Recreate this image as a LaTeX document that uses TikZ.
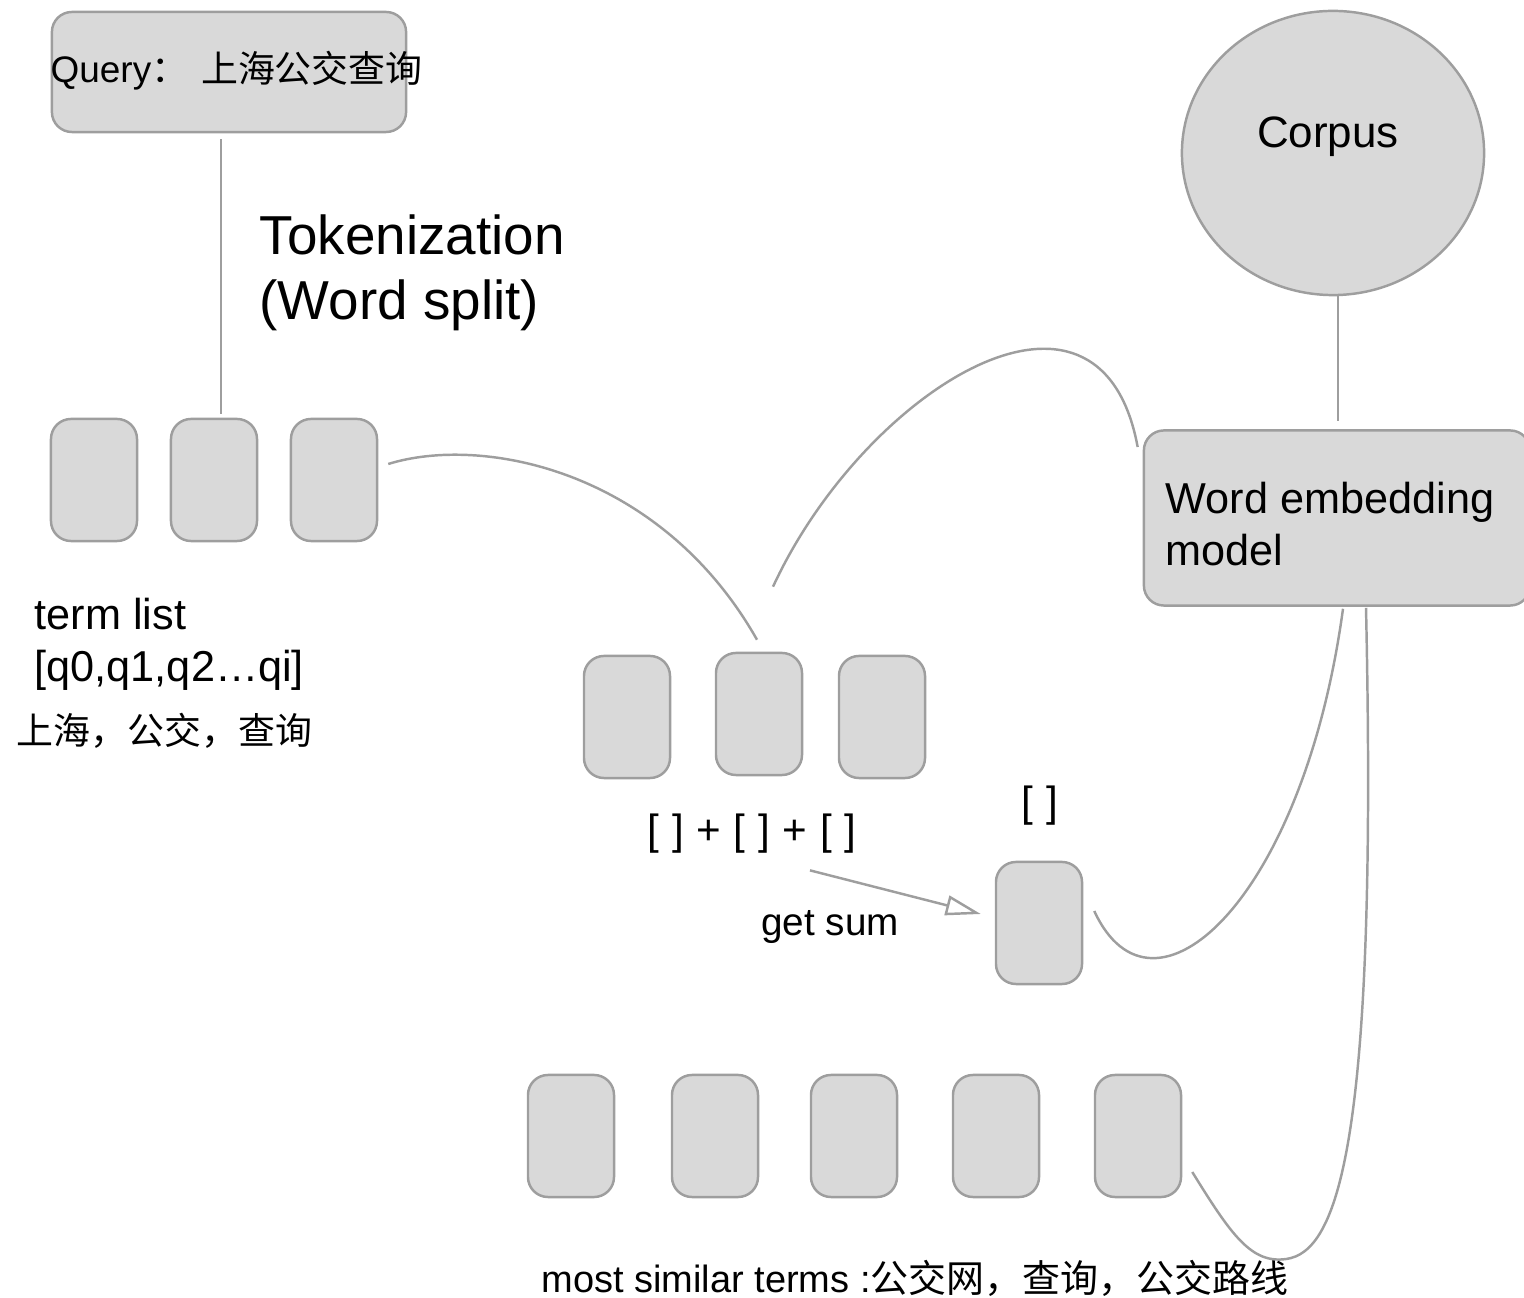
\documentclass[tikz,border=0pt]{standalone}
\usepackage{fontspec}
\setmainfont{Liberation Sans}
\newfontfamily\cjk{Noto Sans CJK SC}
\usepackage{tikz}
\usetikzlibrary{arrows.meta,calc,shapes.geometric}
\definecolor{boxfill}{HTML}{D9D9D9}
\definecolor{boxline}{HTML}{9E9E9E}
\newcommand{\vgap}{\hspace{3.6pt}}

\begin{document}
\begin{tikzpicture}[x=0.01cm,y=-0.01cm,
    term/.style={draw=boxline,fill=boxfill,line width=0.7pt,rounded corners=0.2cm,
        minimum width=0.86cm,minimum height=1.22cm,inner sep=0pt},
    link/.style={draw=boxline,line width=0.7pt},
    txt/.style={inner sep=0pt,align=left}]
    \useasboundingbox (0,0) rectangle (1524,1298);
    %%
    %% Query and tokenization
    \node[term,minimum width=3.54cm,minimum height=1.2cm] (query) at (229,72) {};
    \node[txt,anchor=west,font=\fontsize{10.5}{12}\selectfont] (qtext) at (50,71)
        {Query{\cjk ：\hspace{0.35em}上海公交查询}};
    \node[txt,anchor=north west,font=\fontsize{15.6}{18.5}\selectfont] (token) at (259,214)
        {Tokenization\\(Word split)};
    \foreach \i/\x in {0/94,1/214,2/334}
    {
    \node[term] (q\i) at (\x,480) {};
    }
    \node[txt,anchor=north west,font=\fontsize{12.3}{14.8}\selectfont] (tlist) at (34,597)
        {term list\\{}[q0,q1,q2\dots qi]};
    \node[txt,anchor=west,font=\cjk\fontsize{10.5}{12}\selectfont] (tcn) at (16,731)
        {上海，公交，查询};
    %%
    %% Vectors and sum
    \foreach \i/\x/\y in {0/627/717,1/759/714,2/882/717}
    {
    \node[term] (v\i) at (\x,\y) {};
    }
    \node[txt,font=\fontsize{12}{14}\selectfont] (plus) at (752,834)
        {[\vgap]\vgap+\vgap[\vgap]\vgap+\vgap[\vgap]};
    \node[txt,font=\fontsize{12}{14}\selectfont] (vec) at (1040,806) {[\vgap]};
    \node[term] (sum) at (1039,923) {};
    \node[txt,font=\fontsize{11}{13}\selectfont] (getsum) at (830,927) {get sum};
    %%
    %% Corpus and model
    \node[ellipse,draw=boxline,fill=boxfill,line width=0.7pt,inner sep=0pt,
        minimum width=3.02cm,minimum height=2.84cm] (corpus) at (1333,153) {};
    \node[txt,font=\fontsize{12.5}{14}\selectfont] (ctext) at (1328,137) {Corpus};
    \node[term,minimum width=3.86cm,minimum height=1.75cm] (embed) at (1337,518) {};
    \node[txt,anchor=west,font=\fontsize{12.3}{15}\selectfont] (etext) at (1165,524)
        {Word embedding\\model};
    %%
    %% Similar terms
    \foreach \i/\x in {0/571,1/715,2/854,3/996,4/1138}
    {
    \node[term] (s\i) at (\x,1136) {};
    }
    \node[txt,font=\fontsize{10.8}{12}\selectfont] (most) at (915,1278)
        {most similar terms :{\cjk 公交网，查询，公交路线}};
    %%
    %% Connectors
    \draw[link] ($(query.south)+(-8,6)$) -- ($(q1.north)+(7,-4)$);
    \draw[link] ($(corpus.south)+(5,-2)$) -- ($(embed.north)+(1,-8)$);
    \draw[link] ($(q2.east)+(10,-16)$) .. controls +(93,-29) and +(-97,-171) .. ($(v1.north)+(-2,-12)$);
    \draw[link] ($(v1.north)+(14,-65)$) .. controls +(90,-195) and +(-38,-205) .. ($(embed.west)+(-5,-71)$);
    \draw[link] ($(sum.east)+(11,-12)$) .. controls +(58,126) and +(-40,293) .. ($(embed.south)+(6,2)$);
    \draw[link] ($(s4.east)+(10,36)$) .. controls +(39,63) and +(-35,5) .. ++(94,87)
        .. controls +(50,-7) and +(12,543) .. ($(embed.south)+(29,1)$);
    \draw[link,-{Triangle[open,length=0.35cm,width=0.2cm]}] ($(plus.south)+(58,16)$) -- ($(sum.west)+(-14,-9)$);
\end{tikzpicture}
\end{document}
